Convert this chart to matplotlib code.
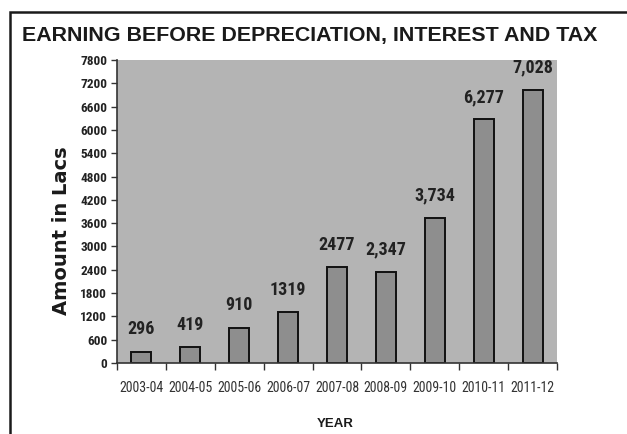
import matplotlib.pyplot as plt
from matplotlib.patches import Rectangle

years = ["2003-04", "2004-05", "2005-06", "2006-07", "2007-08",
         "2008-09", "2009-10", "2010-11", "2011-12"]
ebdit = [296, 419, 910, 1319, 2477, 2347, 3734, 6277, 7028]
value_labels = ["296", "419", "910", "1319", "2477", "2,347", "3,734", "6,277", "7,028"]
yticks = list(range(0, 7801, 600))

narrow = ["Liberation Sans Narrow", "DejaVu Sans Condensed", "Roboto Condensed", "DejaVu Sans"]

fig = plt.figure(figsize=(6.27, 4.34), dpi=100)
fig.patch.set_facecolor("white")

# outer frame (only left and top edges are visible in the picture)
fig.patches.append(Rectangle((10 / 627, -0.1), 1.1, (434 - 12) / 434 + 0.1,
                             transform=fig.transFigure, fill=False,
                             edgecolor="#1a1a1a", linewidth=1.8))

ax = fig.add_axes([117 / 627, 71 / 434, 440 / 627, 303 / 434])
ax.set_facecolor("#b4b4b4")

x = range(len(years))
ax.bar(x, ebdit, width=0.41, color="#8e8e8e", edgecolor="#111111", linewidth=1.4)

for i, (v, lab) in enumerate(zip(ebdit, value_labels)):
    ax.annotate(lab, (i, v), xytext=(0, 16), textcoords="offset points",
                ha="center", va="center", fontsize=13, fontweight="bold",
                family=narrow, fontstretch="condensed", color="#222222")

ax.set_xlim(-0.5, len(years) - 0.5)
ax.set_ylim(0, 7800)
ax.set_yticks(yticks)
ax.set_yticklabels([str(t) for t in yticks], family=narrow, fontsize=9.5,
                   fontweight="bold", fontstretch="condensed", color="#222222")
ax.set_xticks(list(x))
ax.set_xticklabels(years, family=narrow, fontsize=10, fontstretch="condensed",
                   color="#333333")
ax.set_xticks([i - 0.5 for i in range(len(years) + 1)], minor=True)
ax.tick_params(axis="x", which="major", length=0, pad=13)
ax.tick_params(axis="x", which="minor", length=5, width=1, color="#333333")
ax.tick_params(axis="y", length=4, width=1, color="#333333", pad=3)

for s in ["top", "right"]:
    ax.spines[s].set_visible(False)
for s in ["left", "bottom"]:
    ax.spines[s].set_color("#333333")
    ax.spines[s].set_linewidth(1.2)

fig.text(22 / 627, 1 - 35 / 434, "EARNING BEFORE DEPRECIATION, INTEREST AND TAX",
         ha="left", va="center", fontsize=15.4, fontweight="bold",
         family="Liberation Sans", color="#1a1a1a")
fig.text(62 / 627, 1 - 231 / 434, "Amount in Lacs", rotation=90,
         ha="center", va="center", fontsize=14, fontweight="bold",
         family="DejaVu Sans", color="#1a1a1a")
fig.text(335 / 627, 1 - 424 / 434, "YEAR", ha="center", va="center",
         fontsize=9.5, fontweight="bold", family="Liberation Sans", color="#1a1a1a")

fig.savefig("out.png", dpi=100)
